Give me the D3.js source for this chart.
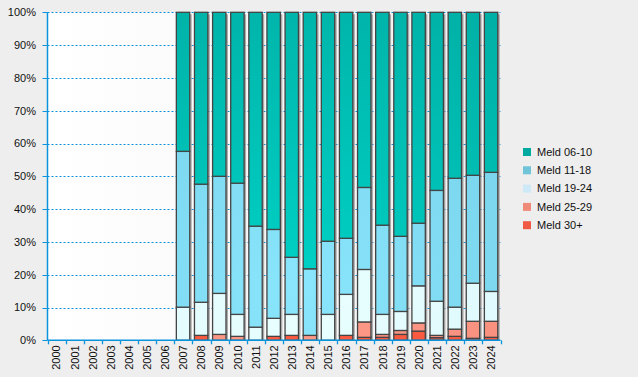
<!DOCTYPE html>
<html>
<head>
<meta charset="utf-8">
<script src="https://cdn.jsdelivr.net/npm/d3@7"></script>
<style>
  body { margin: 0; background: #eeeeee; }
  svg { display: block; font-family: "Liberation Sans", Arial, sans-serif; }
</style>
</head>
<body>
<svg id="chart"></svg>
<script>
const width = 638, height = 377;

// years on the x axis
const years = d3.range(2000, 2025).map(String);

// share per group (%), 2000-2006 have no data
const meld30 = [null,null,null,null,null,null,null, 0, 1.5, 0, 0, 0, 1.2, 1.5, 0, 0, 1.5, 0.9, 0.9, 1.8, 2.8, 0.8, 1.2, 0.6, 0.9];
const meld25 = [null,null,null,null,null,null,null, 0, 0, 1.8, 1.2, 0, 0, 0, 1.5, 0, 0, 4.7, 0.9, 1.2, 2.5, 0.7, 2.2, 5.2, 4.9];
const meld19 = [null,null,null,null,null,null,null, 10.1, 10.1, 12.5, 6.7, 4.0, 5.5, 6.4, 0, 7.9, 12.5, 16.0, 6.1, 5.8, 11.3, 10.4, 6.7, 11.6, 9.1];
const meld11 = [null,null,null,null,null,null,null, 47.5, 36.0, 35.7, 40.0, 30.8, 27.1, 17.4, 20.3, 22.3, 17.1, 25.0, 27.2, 22.9, 19.1, 33.8, 39.3, 32.9, 36.3];
const meld06 = [null,null,null,null,null,null,null, 42.4, 52.4, 50.0, 52.1, 65.2, 66.2, 74.7, 78.2, 69.8, 68.9, 53.4, 64.9, 68.3, 64.3, 54.3, 50.6, 49.7, 48.8];

const seriesNames = ["Meld 30+", "Meld 25-29", "Meld 19-24", "Meld 11-18", "Meld 06-10"];
const seriesValues = [meld30, meld25, meld19, meld11, meld06];
const legendNames = ["Meld 06-10", "Meld 11-18", "Meld 19-24", "Meld 25-29", "Meld 30+"];
const yTicks = d3.range(0, 101, 10);

// colours: [centre, edge] for bars, solid for legend
const barColors = {
  "Meld 06-10": ["#00d2c6", "#00b0a6"],
  "Meld 11-18": ["#8ae6fc", "#74cfe6"],
  "Meld 19-24": ["#eaffff", "#d8f6fb"],
  "Meld 25-29": ["#ff9b88", "#f58a7a"],
  "Meld 30+":   ["#ff5c40", "#f0543e"]
};
const legendColors = {
  "Meld 06-10": "#00aaa0",
  "Meld 11-18": "#6fc4d8",
  "Meld 19-24": "#cde9f8",
  "Meld 25-29": "#f08a78",
  "Meld 30+":   "#f05a44"
};

const rows = years.map((yr, i) => {
  const r = { year: yr, empty: meld06[i] === null };
  seriesNames.forEach((n, k) => r[n] = seriesValues[k][i] || 0);
  return r;
});

const svg = d3.select("#chart").attr("width", width).attr("height", height);
const defs = svg.append("defs");

const plotLeft = 47.5, plotRight = 500.5, plotTop = 12.3, plotBottom = 340.3;

const x = d3.scaleBand().domain(years).range([plotLeft, plotRight]);
const y = d3.scaleLinear().domain([0, 100]).range([plotBottom, plotTop]);

// plot background
const bg = defs.append("linearGradient").attr("id", "bg")
  .attr("x1", "0").attr("x2", "1").attr("y1", "0").attr("y2", "0");
bg.append("stop").attr("offset", "0").attr("stop-color", "#ffffff");
bg.append("stop").attr("offset", "1").attr("stop-color", "#f1f1f1");
svg.append("rect")
  .attr("x", plotLeft).attr("y", plotTop)
  .attr("width", plotRight - plotLeft).attr("height", plotBottom - plotTop)
  .attr("fill", "url(#bg)");

// bar gradients
Object.keys(barColors).forEach((n, i) => {
  const g = defs.append("radialGradient").attr("id", "g" + i)
    .attr("gradientUnits", "userSpaceOnUse")
    .attr("cx", 300).attr("cy", 290).attr("r", 330);
  g.append("stop").attr("offset", "0").attr("stop-color", barColors[n][0]);
  g.append("stop").attr("offset", "1").attr("stop-color", barColors[n][1]);
});
const gradId = n => "url(#g" + Object.keys(barColors).indexOf(n) + ")";

// grid lines
svg.append("g").selectAll("line")
  .data(yTicks.filter(d => d > 0))
  .enter().append("line")
  .attr("x1", plotLeft).attr("x2", plotRight)
  .attr("y1", d => Math.round(y(d)) + 0.5).attr("y2", d => Math.round(y(d)) + 0.5)
  .attr("stroke", "#0a90dc")
  .attr("stroke-width", 1)
  .attr("stroke-dasharray", "2,2");

const barX = d => x(d.year) + 2;
const barW = 13.4;
const data = rows.filter(d => !d.empty);

// shadows
svg.append("g").selectAll("rect")
  .data(data)
  .enter().append("rect")
  .attr("x", d => barX(d) + 2)
  .attr("y", y(100) + 2)
  .attr("width", barW)
  .attr("height", plotBottom - y(100) - 2)
  .attr("fill", "#8a8a8a")
  .attr("opacity", 0.7);

// stacked bars
const stack = d3.stack().keys(seriesNames)(data);
svg.append("g").selectAll("g")
  .data(stack)
  .enter().append("g")
  .attr("fill", s => gradId(s.key))
  .selectAll("rect")
  .data(s => s.filter(p => p[1] - p[0] > 0))
  .enter().append("rect")
  .attr("x", p => barX(p.data))
  .attr("y", p => y(p[1]))
  .attr("width", barW)
  .attr("height", p => y(p[0]) - y(p[1]))
  .attr("stroke", "#444")
  .attr("stroke-width", 1.3);

// axes
const axisColor = "#0a94dc";
svg.append("line")
  .attr("x1", plotLeft).attr("x2", plotLeft).attr("y1", plotTop).attr("y2", plotBottom)
  .attr("stroke", axisColor).attr("stroke-width", 1.5);
svg.append("line")
  .attr("x1", plotLeft).attr("x2", plotRight).attr("y1", plotBottom).attr("y2", plotBottom)
  .attr("stroke", axisColor).attr("stroke-width", 1.5);

svg.append("g").selectAll("line")
  .data(yTicks)
  .enter().append("line")
  .attr("x1", plotLeft - 5).attr("x2", plotLeft)
  .attr("y1", d => Math.round(y(d)) + 0.5).attr("y2", d => Math.round(y(d)) + 0.5)
  .attr("stroke", axisColor);

svg.append("g").selectAll("text")
  .data(yTicks)
  .enter().append("text")
  .attr("x", 36)
  .attr("y", d => y(d))
  .attr("dy", "0.35em")
  .attr("text-anchor", "end")
  .attr("font-size", 11)
  .attr("fill", "#111")
  .text(d => d + "%");

const xTickPos = years.map(yr => x(yr)).concat([plotRight]);
svg.append("g").selectAll("line")
  .data(xTickPos)
  .enter().append("line")
  .attr("x1", d => Math.round(d) + 0.5).attr("x2", d => Math.round(d) + 0.5)
  .attr("y1", plotBottom).attr("y2", plotBottom + 4)
  .attr("stroke", axisColor).attr("stroke-width", 1.3);

svg.append("g").selectAll("text")
  .data(years)
  .enter().append("text")
  .attr("transform", d => `translate(${x(d) + x.bandwidth() / 2},${plotBottom + 5}) rotate(-90)`)
  .attr("dy", "0.35em")
  .attr("text-anchor", "end")
  .attr("font-size", 11)
  .attr("fill", "#111")
  .text(d => d);

// legend
const legend = svg.append("g").selectAll("g")
  .data(legendNames)
  .enter().append("g")
  .attr("transform", (d, i) => `translate(523,${152 + i * 18.3})`);
legend.append("rect")
  .attr("x", 0).attr("y", -4)
  .attr("width", 8).attr("height", 8)
  .attr("fill", d => legendColors[d]);
legend.append("text")
  .attr("x", 14).attr("y", 0)
  .attr("dy", "0.35em")
  .attr("font-size", 11)
  .attr("fill", "#111")
  .text(d => d);
</script>
</body>
</html>
